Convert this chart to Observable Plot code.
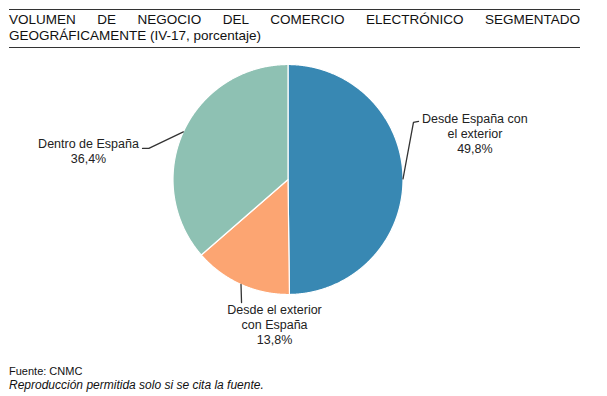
<!DOCTYPE html>
<html><head><meta charset="utf-8">
<script src="https://cdn.jsdelivr.net/npm/d3@7"></script>
<script src="https://cdn.jsdelivr.net/npm/@observablehq/plot@0.6"></script>
<style>
body{margin:0;background:#fff;font-family:"Liberation Sans",Arial,sans-serif;width:607px;height:396px;position:relative;overflow:hidden;color:#111}
#title{position:absolute;left:9px;top:9px;width:571px;border-top:1px solid #333;border-bottom:1.5px solid #333;font-size:13.5px;line-height:16px;text-align:justify;padding-top:2px;padding-bottom:3px}
#chart{position:absolute;left:0;top:50px}
#foot{position:absolute;left:9px;top:364px;font-size:11px;line-height:14px}
#foot .i{font-style:italic;font-size:12px}
</style></head>
<body>
<div id="title">VOLUMEN DE NEGOCIO DEL COMERCIO ELECTRÓNICO SEGMENTADO GEOGRÁFICAMENTE (IV-17, porcentaje)</div>
<div id="chart"></div>
<div id="foot"><div>Fuente: CNMC</div><div class="i">Reproducción permitida solo si se cita la fuente.</div></div>
<script>
// Data
const categories = ["Desde España con el exterior", "Desde el exterior con España", "Dentro de España"];
const values = [49.8, 13.8, 36.4];
const valueLabels = ["49,8%", "13,8%", "36,4%"];
const labelLines = ["Desde España con\nel exterior", "Desde el exterior\ncon España", "Dentro de España"];
const colors = ["#3888b3", "#fca572", "#8ec1b3"];

// Layout (in pie-radius units)
const labelLayout = [
  {tx: 1.625, ty: 0.40, elbow: [1.091, 0.496], end: [1.135, 0.505]},
  {tx: -0.117, ty: -1.26, elbow: [-0.404, -1.07], end: [-0.404, -1.07]},
  {tx: -1.735, ty: 0.248, elbow: [-1.21, 0.27], end: [-1.265, 0.27]}
];

const pie = d3.pie().sort(null).value(d => d)(values);
const toXY = (a, r) => [r * Math.sin(a), r * Math.cos(a)];

const slicePts = [];
pie.forEach((p, i) => {
  slicePts.push({x: 0, y: 0, k: categories[i]});
  const n = Math.max(2, Math.ceil((p.endAngle - p.startAngle) / 0.005));
  for (let j = 0; j <= n; j++) {
    const a = p.startAngle + (p.endAngle - p.startAngle) * j / n;
    const [x, y] = toXY(a, 1);
    slicePts.push({x, y, k: categories[i]});
  }
});

const leaderPts = [];
const labels = [];
pie.forEach((p, i) => {
  const mid = (p.startAngle + p.endAngle) / 2;
  const [sx, sy] = toXY(mid, 1);
  const L = labelLayout[i];
  leaderPts.push({x: sx, y: sy, k: i});
  leaderPts.push({x: L.elbow[0], y: L.elbow[1], k: i});
  leaderPts.push({x: L.end[0], y: L.end[1], k: i});
  labels.push({x: L.tx, y: L.ty, text: labelLines[i] + "\n" + valueLabels[i]});
});

const cx = 287.5, cy = 129, R = 115;
const chart = Plot.plot({
  width: 607, height: 305,
  margin: 0,
  x: {domain: [-1, 1], range: [cx - R, cx + R], axis: null},
  y: {domain: [-1, 1], range: [cy + R, cy - R], axis: null},
  color: {domain: categories, range: colors},
  style: {fontFamily: "'Liberation Sans', Arial, sans-serif"},
  marks: [
    Plot.line(slicePts, {x: "x", y: "y", z: "k", fill: "k", stroke: "white", strokeWidth: 1.2, curve: "linear-closed"}),
    Plot.line(leaderPts, {x: "x", y: "y", z: "k", stroke: "#333", strokeWidth: 1.3}),
    Plot.text(labels, {x: "x", y: "y", text: "text", fontSize: 12.5, lineHeight: 1.18, fill: "#222", textAnchor: "middle", lineAnchor: "middle"})
  ]
});
document.getElementById("chart").appendChild(chart);
</script>
</body></html>
